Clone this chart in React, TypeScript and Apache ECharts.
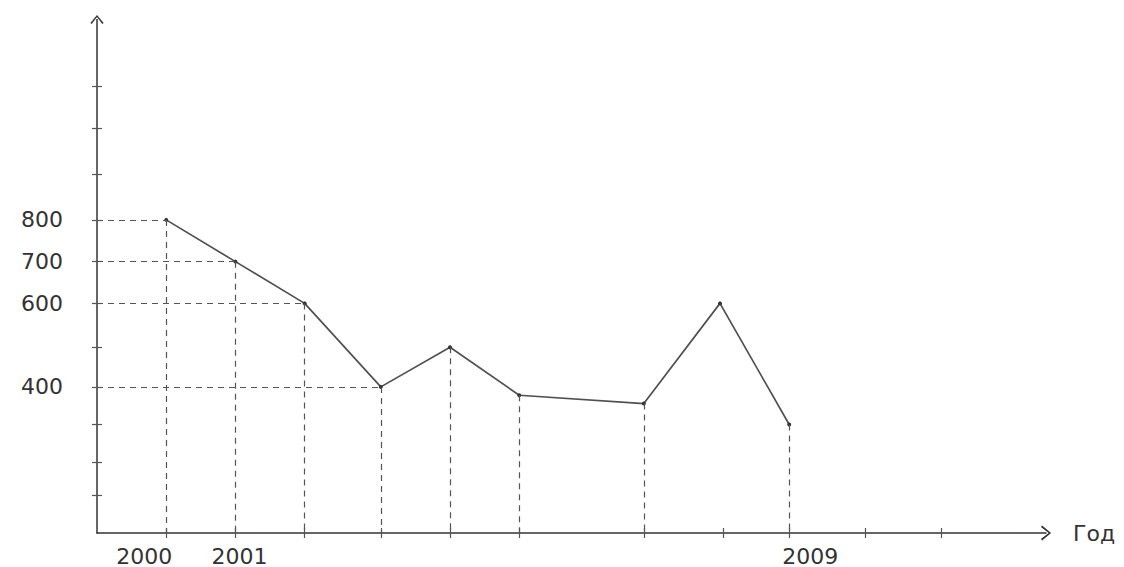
import React, { useEffect, useRef } from "react";
import * as echarts from "echarts";

// Data
const years = [2000, 2001, 2002, 2003.1, 2004.1, 2005.1, 2006.9, 2008, 2009];
const values = [800, 700, 600, 400, 495, 380, 360, 600, 310];
const dropToAxis = [true, true, true, true, true, true, true, false, true];
const guideToAxis = [true, true, true, true, false, false, false, false, false];
const yLabelValues = [400, 600, 700, 800];
const yTickValues = [140, 220, 310, 400, 495, 600, 700, 800, 910, 1020, 1120];
const xLabelValues = [2000, 2001, 2009];
const xTickValues = [2000, 2001, 2002, 2003.1, 2004.1, 2005.1, 2006.9, 2008.05, 2009, 2010.1, 2011.2];
const xAxisName = "Год";

const X_MIN = 1999;
const X_MAX = 2012.71;
const Y_MIN = 50;
const Y_MAX = 1280;

const FONT = "DejaVu Sans";
const AXIS_COLOR = "#333";
const ARROW = "path://M5,0 L10,6 L9,6.8 L5,1.6 L1,6.8 L0,6 Z";

export default function App() {
  const ref = useRef<HTMLDivElement>(null);

  useEffect(() => {
    if (!ref.current) return;
    const chart = echarts.init(ref.current, null, { renderer: "svg" });

    const points = years.map((x, i) => [x, values[i]]);
    const dropData: any[] = [];
    years.forEach((x, i) => {
      if (dropToAxis[i]) dropData.push([{ coord: [x, values[i]] }, { coord: [x, Y_MIN] }]);
    });
    years.forEach((x, i) => {
      if (guideToAxis[i]) dropData.push([{ coord: [X_MIN, values[i]] }, { coord: [x, values[i]] }]);
    });

    const gridBox = { left: 97, right: 78, top: 19.5, bottom: 34 };
    const tickStyle = { color: "#555", width: 1.2 };
    const hiddenLine = { show: true, onZero: false, lineStyle: { opacity: 0 } };

    const option: any = {
      animation: false,
      backgroundColor: "#ffffff",
      grid: [
        { ...gridBox, containLabel: false },
        { ...gridBox, containLabel: false },
      ],
      xAxis: [
        {
          type: "value",
          gridIndex: 0,
          min: X_MIN,
          max: X_MAX,
          splitLine: { show: false },
          axisLine: {
            show: true,
            onZero: false,
            symbol: ["none", ARROW],
            symbolSize: [15, 12],
            lineStyle: { color: AXIS_COLOR, width: 1.5 },
          },
          axisTick: { show: false },
          axisLabel: {
            customValues: xLabelValues,
            margin: 12,
            color: AXIS_COLOR,
            fontFamily: FONT,
            fontSize: 22,
            formatter: (v: number) => `{y${v}|${v}}`,
            rich: {
              y2000: { fontFamily: FONT, fontSize: 22, color: AXIS_COLOR, padding: [0, 44, 0, 0] },
              y2001: { fontFamily: FONT, fontSize: 22, color: AXIS_COLOR, padding: [0, 0, 8, 8] },
              y2009: { fontFamily: FONT, fontSize: 22, color: AXIS_COLOR, padding: [0, 0, 0, 42] },
            },
          },
          name: xAxisName,
          nameLocation: "end",
          nameGap: 27,
          nameTextStyle: { color: AXIS_COLOR, fontFamily: FONT, fontSize: 22, padding: [21, 0, 0, 0] },
        },
        {
          type: "value",
          gridIndex: 1,
          min: X_MIN,
          max: X_MAX,
          offset: -5,
          splitLine: { show: false },
          axisLine: hiddenLine,
          axisTick: { show: true, customValues: xTickValues, length: 10, lineStyle: tickStyle },
          axisLabel: { show: false },
        },
      ],
      yAxis: [
        {
          type: "value",
          gridIndex: 0,
          min: Y_MIN,
          max: Y_MAX,
          splitLine: { show: false },
          axisLine: {
            show: true,
            onZero: false,
            symbol: ["none", ARROW],
            symbolSize: [18, 9],
            lineStyle: { color: AXIS_COLOR, width: 1.5 },
          },
          axisTick: { show: false },
          axisLabel: {
            customValues: yLabelValues,
            margin: 34,
            color: AXIS_COLOR,
            fontFamily: FONT,
            fontSize: 22,
          },
        },
        {
          type: "value",
          gridIndex: 1,
          min: Y_MIN,
          max: Y_MAX,
          offset: -5,
          splitLine: { show: false },
          axisLine: hiddenLine,
          axisTick: { show: true, customValues: yTickValues, length: 10, lineStyle: tickStyle },
          axisLabel: { show: false },
        },
      ],
      series: [
        {
          type: "line",
          xAxisIndex: 0,
          yAxisIndex: 0,
          data: points,
          symbol: "circle",
          symbolSize: 4,
          itemStyle: { color: "#333" },
          lineStyle: { color: "#505050", width: 1.7 },
          z: 3,
          markLine: {
            silent: true,
            symbol: ["none", "none"],
            label: { show: false },
            lineStyle: { type: [6, 5], color: "#555", width: 1.2 },
            data: dropData,
          },
        },
        {
          type: "line",
          xAxisIndex: 1,
          yAxisIndex: 1,
          data: [],
          silent: true,
        },
      ],
    };

    chart.setOption(option);
    return () => chart.dispose();
  }, []);

  return (
    <div
      ref={ref}
      style={{ position: "absolute", left: 0, top: 0, width: 1124, height: 567 }}
    />
  );
}
